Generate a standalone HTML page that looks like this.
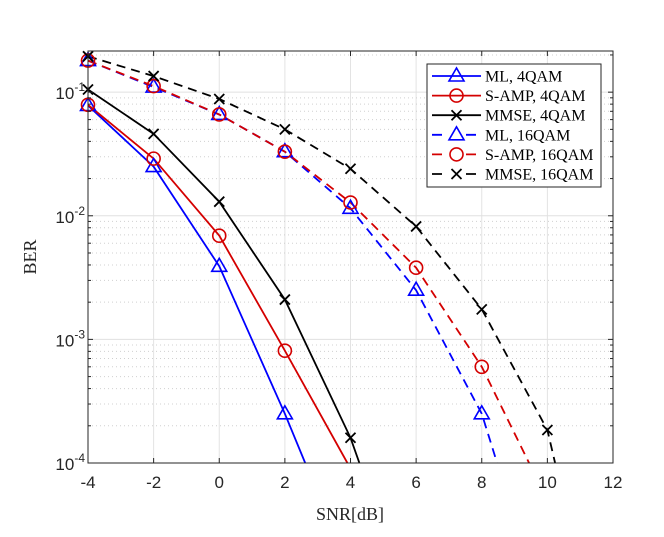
<!DOCTYPE html>
<html><head><meta charset="utf-8"><style>
html,body{margin:0;padding:0;background:#fff;overflow:hidden;width:664px;height:537px;position:relative;}
svg{display:block;position:absolute;left:0;top:0;overflow:hidden;}
</style></head><body>
<svg id="chart" width="664" height="537" viewBox="0 0 664 537" xmlns="http://www.w3.org/2000/svg">
<defs><clipPath id="plotclip"><rect x="88" y="40" width="525" height="423"/></clipPath></defs>
<g id="grid"></g>
<g id="series" clip-path="url(#plotclip)"></g>
<g id="markers"></g>
<g id="axes"></g>
<text x="350" y="520" text-anchor="middle" font-family="Liberation Serif, serif" font-size="18" fill="#262626">SNR[dB]</text>
<text x="36" y="257" text-anchor="middle" font-family="Liberation Serif, serif" font-size="18" fill="#262626" transform="rotate(-90 36 257)">BER</text>
<g id="legend"></g>
</svg>
<script>
const snr = [-4,-2,0,2,4,6,8,10,12];
const mlQ4 = [0.078,0.025,0.0039,0.00025,0.000013];
const sampQ4 = [0.079,0.029,0.0069,0.00081,0.00009];
const mmseQ4 = [0.105,0.046,0.013,0.0021,0.00016,0.000005];
const mlQ16 = [0.18,0.11,0.066,0.033,0.0115,0.0025,0.00025,0.000005];
const sampQ16 = [0.18,0.112,0.066,0.033,0.0128,0.0038,0.0006,0.00005];
const mmseQ16 = [0.195,0.135,0.088,0.050,0.024,0.0082,0.00175,0.000185,0.000001];
const xTicks = [-4,-2,0,2,4,6,8,10,12];
const yTickExp = [-4,-3,-2,-1];
const seriesNames = ["ML, 4QAM","S-AMP, 4QAM","MMSE, 4QAM","ML, 16QAM","S-AMP, 16QAM","MMSE, 16QAM"];

const X0=88,X1=613,Y0=463,Y1=51;
const xmin=-4,xmax=12,lmin=-4,lmax=-0.667;
const xs=v=>X0+(v-xmin)/(xmax-xmin)*(X1-X0);
const ys=v=>Y0-(Math.log10(v)-lmin)/(lmax-lmin)*(Y0-Y1);
const NS="http://www.w3.org/2000/svg";
function mk(tag,attrs,parent){const e=document.createElementNS(NS,tag);for(const k in attrs)e.setAttribute(k,attrs[k]);parent.appendChild(e);return e;}
const grid=document.getElementById('grid'),axes=document.getElementById('axes'),ser=document.getElementById('series'),mks=document.getElementById('markers'),leg=document.getElementById('legend');

xTicks.forEach(t=>{const l=mk('line',{x1:xs(t),x2:xs(t),y1:Y1,y2:Y0,stroke:'#e3e3e3','stroke-width':1},grid);
});
for(let e=-4;e<0;e++){for(let m=1;m<10;m++){const v=m*Math.pow(10,e);const y=ys(v);if(y<Y1)continue;
const l=mk('line',{x1:X0,x2:X1,y1:y,y2:y,stroke:m==1?'#e0e0e0':'#d0d0d0','stroke-width':1,'stroke-dasharray':m==1?'none':'1,3'},grid);

if(m>1){mk('line',{x1:X0,x2:X0+3,y1:y,y2:y,stroke:'#262626'},axes);mk('line',{x1:X1,x2:X1-3,y1:y,y2:y,stroke:'#262626'},axes);}}}
const box=mk('rect',{x:X0,y:Y1,width:X1-X0,height:Y0-Y1,fill:'none',stroke:'#262626','stroke-width':1},axes);

xTicks.forEach(t=>{const x=xs(t);mk('line',{x1:x,x2:x,y1:Y0,y2:Y0-5,stroke:'#262626'},axes);mk('line',{x1:x,x2:x,y1:Y1,y2:Y1+5,stroke:'#262626'},axes);
const tx=mk('text',{x:x,y:Y0+25,'text-anchor':'middle','font-family':'Liberation Sans, sans-serif','font-size':17,fill:'#262626'},axes);tx.textContent=t;
});
yTickExp.forEach(e=>{const y=ys(Math.pow(10,e));mk('line',{x1:X0,x2:X0+5,y1:y,y2:y,stroke:'#262626'},axes);mk('line',{x1:X1,x2:X1-5,y1:y,y2:y,stroke:'#262626'},axes);
const tx=mk('text',{x:X0-3,y:y+7,'text-anchor':'end','font-family':'Liberation Sans, sans-serif','font-size':17,fill:'#262626'},axes);
tx.appendChild(document.createTextNode('10'));const sp=document.createElementNS(NS,'tspan');sp.setAttribute('dy','-8');sp.setAttribute('font-size','12');sp.textContent=String(e);tx.appendChild(sp);
});

const defs=[
 {d:mlQ4,c:'#0000ff',m:'tri',dash:'none'},
 {d:sampQ4,c:'#d40000',m:'circ',dash:'none'},
 {d:mmseQ4,c:'#000000',m:'x',dash:'none'},
 {d:mlQ16,c:'#0000ff',m:'tri',dash:'9,6'},
 {d:sampQ16,c:'#d40000',m:'circ',dash:'9,6'},
 {d:mmseQ16,c:'#000000',m:'x',dash:'9,6'}];
function marker(type,x,y,c,parent){let e;
 if(type=='tri')e=mk('polygon',{points:`${x},${y-8} ${x-7.5},${y+5} ${x+7.5},${y+5}`,fill:'none',stroke:c,'stroke-width':1.6},parent);
 else if(type=='circ')e=mk('circle',{cx:x,cy:y,r:6.5,fill:'none',stroke:c,'stroke-width':1.6},parent);
 else e=mk('path',{d:`M${x-5},${y-5}L${x+5},${y+5}M${x-5},${y+5}L${x+5},${y-5}`,stroke:c,'stroke-width':1.8},parent);
 return e;}
defs.forEach((s,i)=>{
 const pts=[];
 for(let j=0;j<s.d.length;j++){
  const x=xs(snr[j]),y=ys(s.d[j]);
  if(y<=Y0){pts.push([x,y]);continue;}
  if(j>0){const px=xs(snr[j-1]),py=ys(s.d[j-1]);const f=(Y0-py)/(y-py);pts.push([px+f*(x-px),Y0]);}
  break;
 }
 const pl=mk('polyline',{points:pts.map(p=>p[0].toFixed(1)+','+p[1].toFixed(1)).join(' '),fill:'none',stroke:s.c,'stroke-width':1.8,'stroke-dasharray':s.dash},ser);
 
 s.d.forEach((v,j)=>{const x=xs(snr[j]),y=ys(v);if(y>Y0+1||y<Y1-10)return;
  const e=marker(s.m,x,y,s.c,mks);});
});
const lb=mk('rect',{x:427,y:64,width:174,height:123,fill:'#fff',stroke:'#262626','stroke-width':1},leg);

defs.forEach((s,i)=>{const y=76+i*19.6;
 const g=mk('g',{},leg);
 mk('line',{x1:432,x2:481,y1:y,y2:y,stroke:s.c,'stroke-width':1.8,'stroke-dasharray':s.dash=='none'?'none':'10,7'},g);
 if(s.dash!='none')mk('rect',{x:448,y:y-8,width:17,height:16,fill:'#fff'},g);
 marker(s.m,456.5,y,s.c,g);
 const t=mk('text',{x:485,y:y+5.5,'font-family':'Liberation Serif, serif','font-size':16,fill:'#000'},g);t.textContent=seriesNames[i];
});
</script>
</body></html>
